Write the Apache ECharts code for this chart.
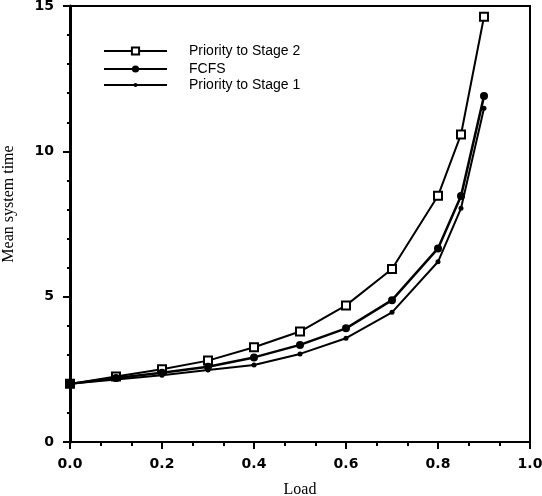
<!DOCTYPE html>
<html>
<head>
<meta charset="utf-8">
<script src="https://cdn.jsdelivr.net/npm/echarts@6/dist/echarts.min.js"></script>
<style>
  html, body { margin: 0; padding: 0; background: #fff; }
  #chart { width: 542px; height: 496px; }
</style>
</head>
<body>
<div id="chart"></div>
<script>
const loads = [0, 0.1, 0.2, 0.3, 0.4, 0.5, 0.6, 0.7, 0.8, 0.85, 0.9];
const prioStage2 = [2.0, 2.25, 2.5, 2.8, 3.26, 3.8, 4.7, 5.95, 8.47, 10.58, 14.63];
const fcfs = [2.0, 2.2, 2.38, 2.59, 2.91, 3.34, 3.91, 4.88, 6.66, 8.46, 11.9];
const prioStage1 = [2.0, 2.15, 2.3, 2.48, 2.65, 3.03, 3.57, 4.46, 6.2, 8.04, 11.48];
const seriesNames = ["Priority to Stage 2", "FCFS", "Priority to Stage 1"];

const chart = echarts.init(document.getElementById("chart"));

const pairs = vals => loads.map((x, i) => [x, vals[i]]);
const tickFont = { color: "#000", fontFamily: "DejaVu Sans", fontWeight: "bold", fontSize: 14 };
const legendText = { color: "#000", fontFamily: "Liberation Sans", fontSize: 14, lineHeight: 16, padding: [0, 0, 0, 17] };

const makeLegend = (name, top, h) => ({
  data: [name],
  orient: "vertical",
  left: 103,
  top: top,
  padding: 0,
  itemWidth: 63,
  itemHeight: h,
  selectedMode: false,
  textStyle: legendText
});

const option = {
  animation: false,
  backgroundColor: "#fff",
  legend: [
    makeLegend(seriesNames[0], 43, 9),
    makeLegend(seriesNames[1], 61, 9),
    makeLegend(seriesNames[2], 77, 5)
  ],
  grid: {
    left: 70, right: 12, top: 6, bottom: 54,
    containLabel: false,
    outerBoundsMode: "none",
    show: true, borderColor: "#000", borderWidth: 2
  },
  xAxis: {
    type: "value",
    min: 0, max: 1, interval: 0.2,
    name: "Load",
    nameLocation: "middle",
    nameGap: 40,
    nameTextStyle: { color: "#000", fontFamily: "Liberation Serif", fontSize: 16 },
    axisLine: { lineStyle: { color: "#000", width: 2 } },
    axisTick: { length: 7, lineStyle: { color: "#000", width: 2 } },
    minorTick: { show: true, splitNumber: 3, length: 4, lineStyle: { color: "#000", width: 2 } },
    axisLabel: Object.assign({ margin: 15, formatter: v => v.toFixed(1) }, tickFont),
    splitLine: { show: false }
  },
  yAxis: {
    type: "value",
    min: 0, max: 15, interval: 5,
    name: "Mean system time",
    nameLocation: "middle",
    nameGap: 53,
    nameTextStyle: { color: "#000", fontFamily: "Liberation Serif", fontSize: 16, padding: [0, 0, 0, 40] },
    axisLine: { show: true, lineStyle: { color: "#000", width: 3 } },
    axisTick: { show: true, length: 7, lineStyle: { color: "#000", width: 2 } },
    minorTick: { show: true, splitNumber: 5, length: 3, lineStyle: { color: "#000", width: 2 } },
    axisLabel: Object.assign({ margin: 16 }, tickFont),
    splitLine: { show: false }
  },
  series: [
    {
      name: seriesNames[0],
      type: "line",
      data: pairs(prioStage2),
      symbol: "rect",
      symbolSize: 8,
      showAllSymbol: true,
      lineStyle: { color: "#000", width: 2 },
      itemStyle: { color: "#fff", borderColor: "#000", borderWidth: 2 },
      z: 3
    },
    {
      name: seriesNames[1],
      type: "line",
      data: pairs(fcfs),
      symbol: "circle",
      symbolSize: 8,
      showAllSymbol: true,
      lineStyle: { color: "#000", width: 2.5 },
      itemStyle: { color: "#000" }
    },
    {
      name: seriesNames[2],
      type: "line",
      data: pairs(prioStage1),
      symbol: "circle",
      symbolSize: 5,
      showAllSymbol: true,
      lineStyle: { color: "#000", width: 2 },
      itemStyle: { color: "#000" }
    }
  ]
};

chart.setOption(option);
</script>
</body>
</html>
